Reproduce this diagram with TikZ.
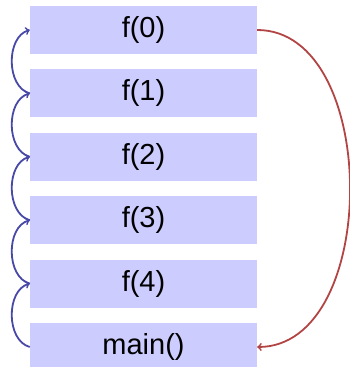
\documentclass[tikz,border=0pt]{standalone}
\usepackage{fontspec}
\setmainfont{Liberation Sans}
\usepackage{tikz}
\usetikzlibrary{positioning}

\definecolor{callblue}{RGB}{72,72,168}
\definecolor{retred}{RGB}{178,68,68}

\begin{document}
\begin{tikzpicture}[x=1pt,y=1pt,
  frame/.style={fill=blue!20,minimum width=227pt,minimum height=48pt,inner sep=0pt,
    font=\fontsize{29}{34}\selectfont},
  call/.style={->,>=to,callblue,line width=1.8pt,bend left=75},
  back/.style={->,>=to,retred,line width=1.8pt},
  node distance=15pt]

\useasboundingbox (0,0) rectangle (349,367);

\node[frame] (f0) at (143.5,337) {f(0)};
\node[frame,below=of f0] (f1) {f(1)};
\node[frame,below=of f1] (f2) {f(2)};
\node[frame,below=of f2] (f3) {f(3)};
\node[frame,below=of f3] (f4) {f(4)};
\node[frame,below=of f4] (main) {main()};

% calls going up the stack
\draw[call] (main.west) to (f4.west);
\draw[call] (f4.west) to (f3.west);
\draw[call] (f3.west) to (f2.west);
\draw[call] (f2.west) to (f1.west);
\draw[call] (f1.west) to (f0.west);

% return straight to main
\draw[back] (f0.east) to[out=0,in=0] (main.east);

\end{tikzpicture}
\end{document}
